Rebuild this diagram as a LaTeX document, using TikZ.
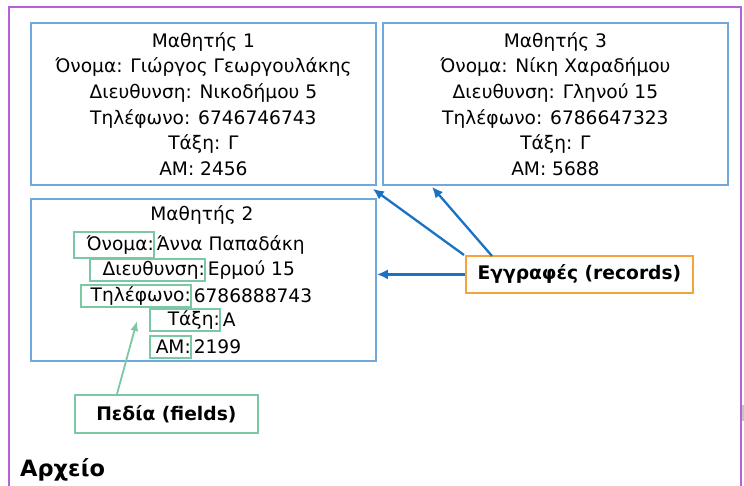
\documentclass[tikz,border=0pt]{standalone}
\usepackage{fontspec}
\setmainfont{DejaVu Sans}
\usetikzlibrary{arrows.meta}
\definecolor{filepurple}{HTML}{B660DA}
\definecolor{recblue}{HTML}{6FA8DC}
\definecolor{arrowblue}{HTML}{1A72C4}
\definecolor{fieldgreen}{HTML}{7CC8A4}
\definecolor{recorange}{HTML}{F5A43C}
\begin{document}
\begin{tikzpicture}[x=1pt,y=-1pt,
  txt/.style={font=\fontsize{18.6}{25.6}\selectfont, inner sep=0pt},
  recbox/.style={draw=recblue, line width=1.8pt, minimum width=345pt,
    minimum height=162pt, align=center, anchor=north west, inner sep=0pt, txt},
  fieldbox/.style={draw=fieldgreen, line width=1.6pt, anchor=north west,
    align=right, inner sep=1.5pt, txt},
  valtxt/.style={txt, anchor=west, inner sep=2pt},
  callout/.style={line width=1.8pt, inner sep=0pt, anchor=north west,
    font=\fontsize{18.7}{20}\selectfont\bfseries},
  recarrow/.style={draw=arrowblue, line width=2.3pt, -{Latex[length=11pt,width=10pt]}},
  fldarrow/.style={draw=fieldgreen, line width=1.8pt, -{Latex[length=10pt,width=8pt]}}
]
\useasboundingbox (0,0) rectangle (744,485);
\fill[white] (0,0) rectangle (744,485);

% file frame (open at the bottom)
\draw[filepurple, line width=2.6pt] (9,500) -- (9,7) -- (741,7) -- (741,500);
\fill[black!22] (742,405) rectangle (745,421);

% records
\node[recbox] (s1) at (30,22) {Μαθητής 1\\Όνομα: Γιώργος Γεωργουλάκης\\Διευθυνση: Νικοδήμου 5\\Τηλέφωνο: 6746746743\\Τάξη: Γ\\ΑΜ: 2456};
\node[recbox] (s3) at (382,22) {Μαθητής 3\\Όνομα: Νίκη Χαραδήμου\\Διευθυνση: Γληνού 15\\Τηλέφωνο: 6786647323\\Τάξη: Γ\\ΑΜ: 5688};
\node[recbox] (s2) at (30,198) {};

% record 2 with its fields marked
\node[txt] (t2) at (202,215) {Μαθητής 2};
\node[fieldbox, text width=80pt, minimum height=26pt] (f1) at (73,231) {Όνομα:};
\node[valtxt] (v1) at (f1.east) {Άννα Παπαδάκη};
\node[fieldbox, text width=115pt, minimum height=22pt] (f2) at (89,258) {Διευθυνση:};
\node[valtxt] (v2) at (f2.east) {Ερμού 15};
\node[fieldbox, text width=110pt, minimum height=22pt] (f3) at (80,284) {Τηλέφωνο:};
\node[valtxt] (v3) at (f3.east) {6786888743};
\node[fieldbox, text width=70pt, minimum height=22pt] (f4) at (149,308) {Τάξη:};
\node[valtxt] (v4) at (f4.east) {Α};
\node[fieldbox, text width=41pt, minimum height=22pt] (f5) at (149,335) {ΑΜ:};
\node[valtxt] (v5) at (f5.east) {2199};

% callouts
\node[callout, draw=recorange, fill=white, minimum width=227pt, minimum height=37pt] (rec) at (465,255) {Εγγραφές (records)};
\node[callout, draw=fieldgreen, fill=white, minimum width=183pt, minimum height=38pt] (fld) at (74,394) {Πεδία (fields)};

\coordinate (s3tip) at ([xshift=50pt,yshift=-1pt]s3.south west);
\coordinate (f4tip) at (137,321);

\draw[recarrow] ([xshift=-1pt]rec.north west) -- ([xshift=-4pt,yshift=-3pt]s1.south east);
\draw[recarrow] ([xshift=27pt,yshift=-1pt]rec.north west) -- (s3tip);
\draw[recarrow] (rec.west) -- (rec.west -| s2.east);
\draw[fldarrow] ([xshift=43pt]fld.north west) -- (f4tip);

\node[anchor=west, inner sep=0pt, font=\fontsize{22.5}{24}\selectfont\bfseries] (file) at (20,470) {Αρχείο};
\end{tikzpicture}
\end{document}
